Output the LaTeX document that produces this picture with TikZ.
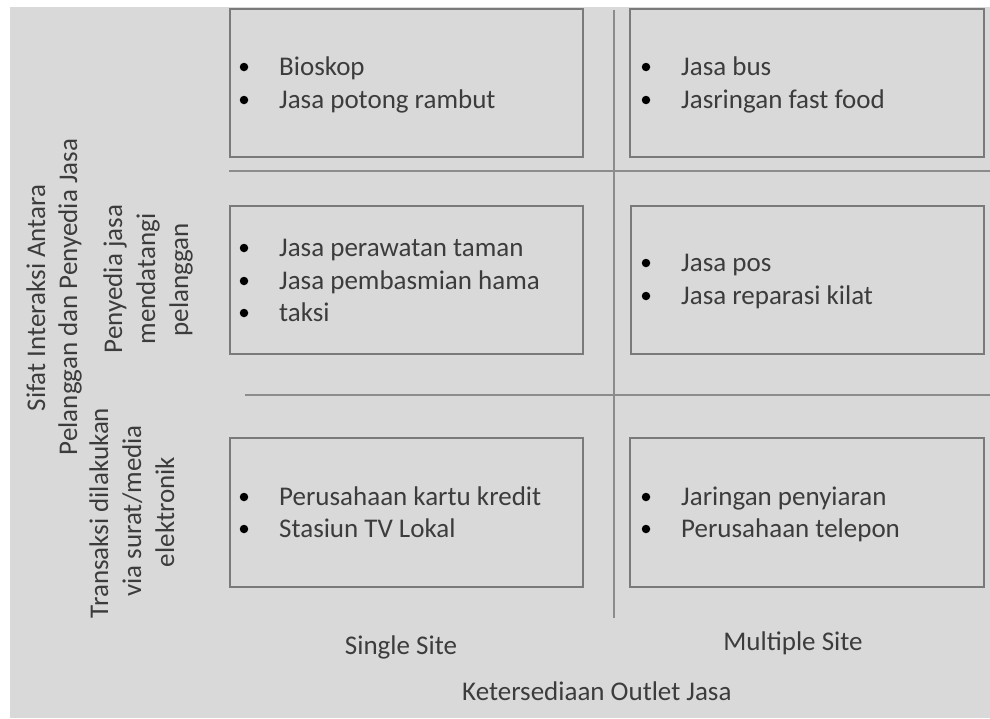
\documentclass[tikz,border=0pt]{standalone}
\usepackage{fontspec}
\setmainfont{Carlito}
\definecolor{panel}{HTML}{D9D9D9}
\definecolor{frame}{HTML}{7A7A7A}
\definecolor{divider}{HTML}{8C8C8C}
\definecolor{ink}{HTML}{3C3C3C}
\tikzset{
  cell/.style={draw=frame, line width=1.6pt, minimum width=353pt, minimum height=148pt, inner sep=0pt},
  divline/.style={draw=divider, line width=1.6pt},
  txt/.style={font=\fontsize{27}{33}\selectfont, text=ink, inner sep=0pt},
  item/.style={txt, anchor=base west},
  bul/.style={circle, fill=black, minimum size=8.5pt, inner sep=0pt},
  vlabel/.style={txt, rotate=90, anchor=base},
}
\begin{document}
\begin{tikzpicture}[x=1pt,y=-1pt]
\useasboundingbox (0,0) rectangle (990,718);
\fill[white] (0,0) rectangle (990,718);
\fill[panel] (10,7) rectangle (990,718);

% quadrant dividers
\draw[divline] (229,171) -- (990,171);
\draw[divline] (245,395) -- (990,395);
\draw[divline] (614,10) -- (614,618);

% the six cells
\node[cell] (tl) at (406.5,83) {};
\node[cell, minimum width=354pt] (tr) at (807,83) {};
\node[cell] (ml) at (406.5,280) {};
\node[cell] (mr) at (807.5,280) {};
\node[cell, minimum height=149pt] (bl) at (406.5,512.5) {};
\node[cell, minimum width=354pt, minimum height=149pt] (br) at (807,512.5) {};

% bullet lists
\foreach \name/\x/\y/\t in {
  a1/244/75/Bioskop, a2/244/108/Jasa potong rambut,
  b1/646/75/Jasa bus, b2/646/108/Jasringan fast food,
  c1/244/256/Jasa perawatan taman, c2/244/289/Jasa pembasmian hama, c3/244/321/taksi,
  d1/646/271/Jasa pos, d2/646/304/Jasa reparasi kilat,
  e1/244/505/Perusahaan kartu kredit, e2/244/537/Stasiun TV Lokal,
  f1/646/505/Jaringan penyiaran, f2/646/537/Perusahaan telepon}{
  \node[bul] (dot-\name) at (\x,\y-8) {};
  \node[item] (item-\name) at (\x+35,\y) {\t};
}

% horizontal axis
\node[txt, anchor=base] (single) at (401,654) {Single Site};
\node[txt, anchor=base] (multi) at (793,650) {Multiple Site};
\node[txt, anchor=base west] (xaxis) at (462,700) {Ketersediaan Outlet Jasa};

% vertical axis
\node[vlabel] (yaxis1) at (45,298) {Sifat Interaksi Antara};
\node[vlabel] (yaxis2) at (77,297) {Pelanggan dan Penyedia Jasa};
\node[vlabel] (rowa1) at (122,279) {Penyedia jasa};
\node[vlabel] (rowa2) at (155,279) {mendatangi};
\node[vlabel] (rowa3) at (188,280) {pelanggan};
\node[vlabel] (rowb1) at (108,513) {Transaksi dilakukan};
\node[vlabel] (rowb2) at (141,511) {via surat/media};
\node[vlabel] (rowb3) at (174,512) {elektronik};
\end{tikzpicture}
\end{document}
